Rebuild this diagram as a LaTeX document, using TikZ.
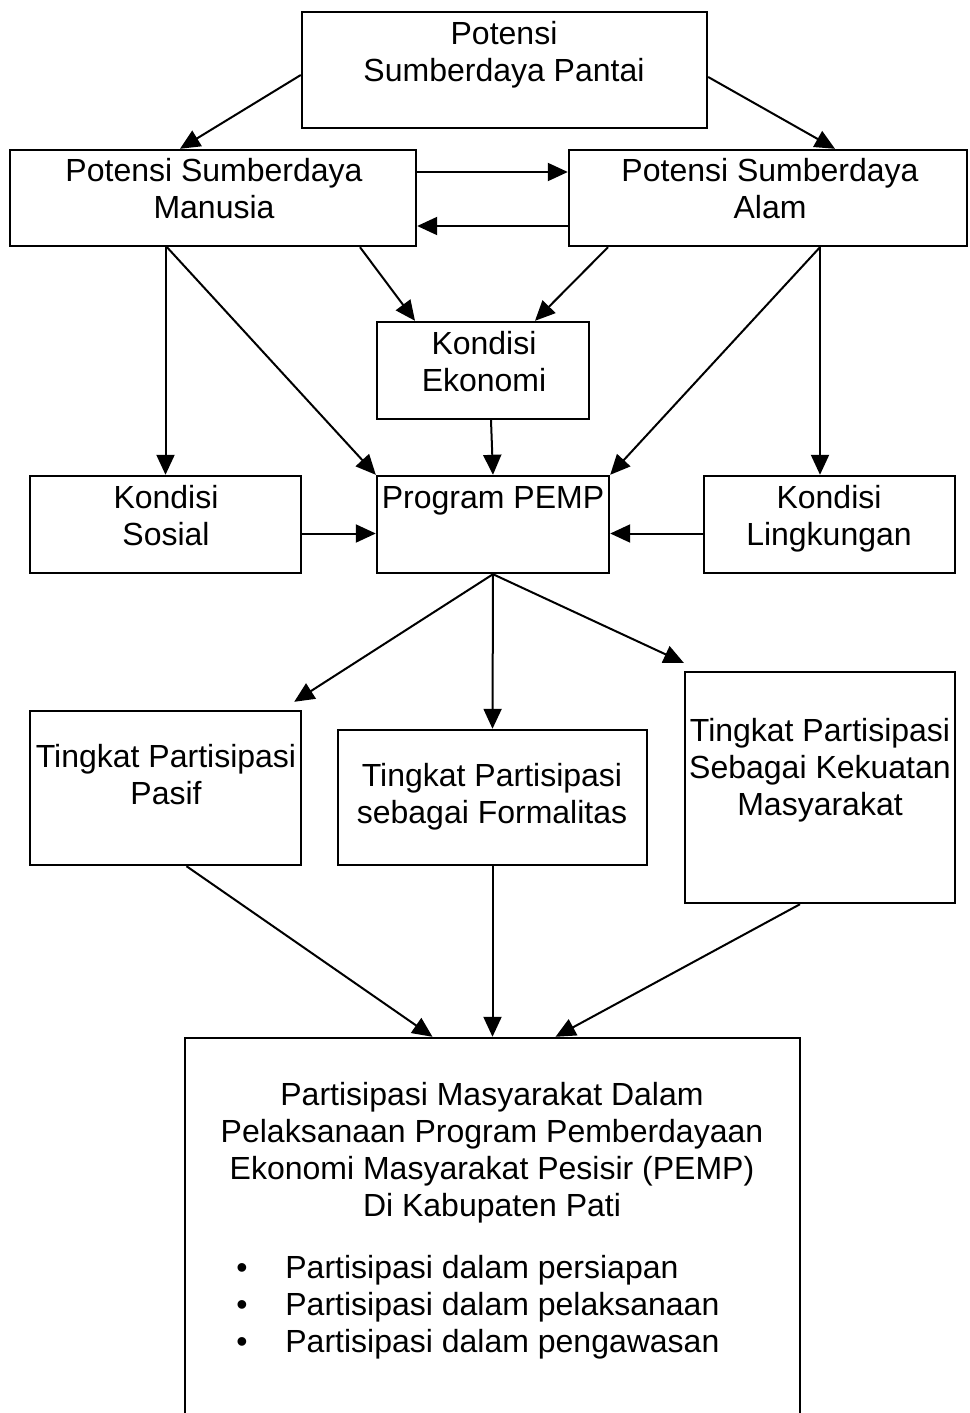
\documentclass[tikz,border=0pt]{standalone}
\usepackage{fontspec}
\setmainfont{Liberation Sans}
\usetikzlibrary{arrows.meta,calc}
\tikzset{
  box/.style 2 args={draw, line width=1.2pt, minimum width=#1*0.5pt, minimum height=#2*0.5pt, inner sep=0pt},
  txt/.style={align=center, inner sep=0pt, font=\fontsize{16}{18.5}\selectfont},
  arr/.style={line width=1pt, -{Triangle[length=10pt,width=9pt]}}
}
\begin{document}
\begin{tikzpicture}[x=0.5pt,y=-0.5pt]
\useasboundingbox (0,0) rectangle (969,1413);
% boxes
\node[box={405}{116}] (A) at (504.5,70) {};
\node[box={406}{96}] (B) at (213,198) {};
\node[box={398}{96}] (C) at (768,198) {};
\node[box={212}{97}] (D) at (483,370.5) {};
\node[box={271}{97}] (E) at (165.5,524.5) {};
\node[box={232}{97}] (F) at (493,524.5) {};
\node[box={251}{97}] (G) at (829.5,524.5) {};
\node[box={271}{154}] (H) at (165.5,788) {};
\node[box={309}{135}] (I) at (492.5,797.5) {};
\node[box={270}{231}] (J) at (820,787.5) {};
\node[box={615}{387}] (K) at (492.5,1231.5) {};
% texts
\node[txt] (At) at (504,54.5) {Potensi\\Sumberdaya Pantai};
\node[txt] (Bt) at (214,188.5) {Potensi Sumberdaya\\Manusia};
\node[txt] (Ct) at (770,188.5) {Potensi Sumberdaya\\Alam};
\node[txt] (Dt) at (484,361.5) {Kondisi\\Ekonomi};
\node[txt] (Et) at (166,515.5) {Kondisi\\Sosial};
\node[txt] (Ft) at (493,501) {Program PEMP};
\node[txt] (Gt) at (829,518.5) {Kondisi\\Lingkungan};
\node[txt] (Ht) at (166,774.5) {Tingkat Partisipasi\\Pasif};
\node[txt] (It) at (492,796.5) {Tingkat Partisipasi\\sebagai Formalitas};
\node[txt] (Jt) at (820,770) {Tingkat Partisipasi\\Sebagai Kekuatan\\Masyarakat};
\node[txt] (Kt) at (492,1153) {Partisipasi Masyarakat Dalam\\Pelaksanaan Program Pemberdayaan\\Ekonomi Masyarakat Pesisir (PEMP)\\Di Kabupaten Pati};
\node[txt, align=left, anchor=west] (Kb) at (236,1307.5) {\makebox[24.5pt][l]{\textbullet}Partisipasi dalam persiapan\\\makebox[24.5pt][l]{\textbullet}Partisipasi dalam pelaksanaan\\\makebox[24.5pt][l]{\textbullet}Partisipasi dalam pengawasan};
% connectors
\draw[arr] ($(A.west)+(0,5)$) -- ($(B.north)+(-33,0)$);
\draw[arr] ($(A.east)+(0,7)$) -- ($(C.north)+(67,0)$);
\draw[arr] ($(B.east)+(0,-26)$) -- ($(C.west)+(0,-26)$);
\draw[arr] ($(C.west)+(0,28)$) -- ($(B.east)+(0,28)$);
\coordinate (bs) at ($(B.south)+(-46,0)$);
\draw[arr] (bs) -- (E.north |- bs) -- (E.north);
\draw[arr] (bs) -- (F.north west);
\draw[arr] ($(B.south)+(147,0)$) -- ($(D.north)+(-68,0)$);
\draw[arr] ($(C.south)+(-160,0)$) -- ($(D.north)+(52,0)$);
\coordinate (cs) at ($(C.south)+(52,0)$);
\draw[arr] (cs) -- (F.north east);
\draw[arr] (cs) -- ($(G.north)+(-9.5,0)$);
\draw[arr] ($(D.south)+(8,0)$) -- (F.north);
\draw[arr] ($(E.east)+(0,9)$) -- ($(F.west)+(0,9)$);
\draw[arr] ($(G.west)+(0,9)$) -- ($(F.east)+(0,9)$);
\draw[arr] (F.south) -- ($(H.north east)+(-8,-8)$);
\draw[arr] (F.south) -- (I.north);
\draw[arr] (F.south) -- ($(J.north west)+(0,-8)$);
\draw[arr] ($(H.south)+(21,0)$) -- ($(K.north)+(-60,0)$);
\draw[arr] (I.south) -- (K.north);
\draw[arr] ($(J.south)+(-20,0)$) -- ($(K.north)+(63,0)$);
\end{tikzpicture}
\end{document}
